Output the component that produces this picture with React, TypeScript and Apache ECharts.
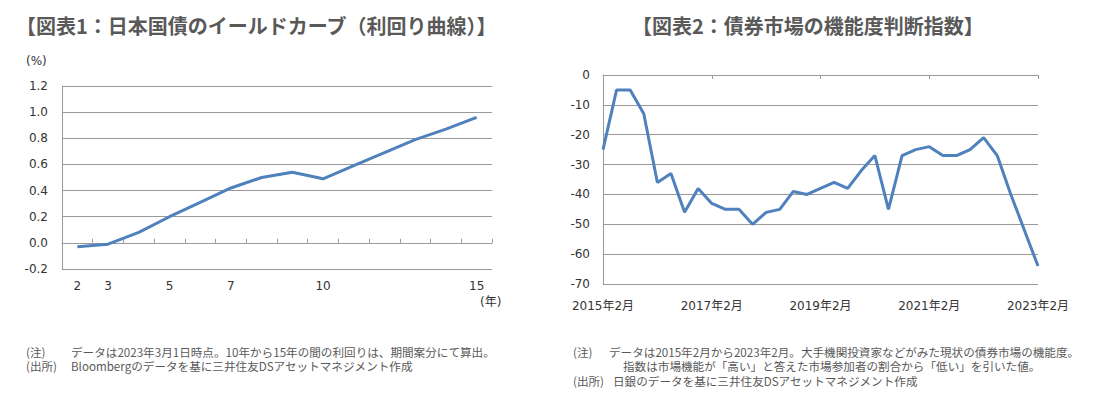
import React, { useEffect, useRef } from "react";
import * as echarts from "echarts";

// ---- data: Chart 1 (JGB yield curve) ----
const yieldMaturities = ["2", "3", "4", "5", "6", "7", "8", "9", "10", "11", "12", "13", "14", "15"];
const yieldValues = [-0.03, -0.01, 0.08, 0.2, 0.31, 0.42, 0.5, 0.54, 0.49, 0.59, 0.69, 0.79, 0.87, 0.96];
const yieldTickLabels = ["2", "3", "5", "7", "10", "15"];

// ---- data: Chart 2 (bond market functioning index) ----
const fmiDates = [
  "2015年2月", "2015年5月", "2015年8月", "2015年11月",
  "2016年2月", "2016年5月", "2016年8月", "2016年11月",
  "2017年2月", "2017年5月", "2017年8月", "2017年11月",
  "2018年2月", "2018年5月", "2018年8月", "2018年11月",
  "2019年2月", "2019年5月", "2019年8月", "2019年11月",
  "2020年2月", "2020年5月", "2020年8月", "2020年11月",
  "2021年2月", "2021年5月", "2021年8月", "2021年11月",
  "2022年2月", "2022年5月", "2022年8月", "2022年11月",
  "2023年2月",
];
const fmiValues = [
  -25, -5, -5, -13, -36, -33, -46, -38, -43, -45, -45, -50, -46, -45, -39, -40,
  -38, -36, -38, -32, -27, -45, -27, -25, -24, -27, -27, -25, -21, -27, -40, -52, -64,
];

const title1 = "【図表1：日本国債のイールドカーブ（利回り曲線）】";
const title2 = "【図表2：債券市場の機能度判断指数】";

const LABEL_FONT = "'DejaVu Sans', 'Noto Sans CJK JP', sans-serif";
const JP_FONT = "'Noto Sans CJK JP', sans-serif";
const GRID_COLOR = "#9a9a9a";
const LINE_COLOR = "#4f81bd";
const TEXT_COLOR = "#333333";
const NOTE_COLOR = "#595959";

export default function App() {
  const ref = useRef<HTMLDivElement>(null);

  useEffect(() => {
    if (!ref.current) return;
    const chart = echarts.init(ref.current, undefined, { renderer: "svg" });

    const noteStyle = { fontSize: 11.6, lineHeight: 13, fill: NOTE_COLOR, fontFamily: JP_FONT };

    chart.setOption({
      animation: false,
      backgroundColor: "#ffffff",
      title: [
        {
          text: title1,
          left: 11,
          top: 10,
          textStyle: { fontSize: 20, fontWeight: "bold", color: "#595959", fontFamily: JP_FONT },
        },
        {
          text: title2,
          left: 627,
          top: 10,
          textStyle: { fontSize: 20, fontWeight: "bold", color: "#595959", fontFamily: JP_FONT },
        },
      ],
      grid: [
        { left: 62, right: 607, top: 86, height: 183 },
        { left: 603, right: 61, top: 75, height: 209 },
      ],
      xAxis: [
        {
          gridIndex: 0,
          type: "category",
          data: yieldMaturities,
          boundaryGap: true,
          position: "bottom",
          axisLine: { show: false, onZero: false },
          axisTick: { show: false },
          axisLabel: {
            interval: (_i: number, v: string) => yieldTickLabels.includes(v),
            margin: 11,
            fontSize: 12,
            color: TEXT_COLOR,
            fontFamily: LABEL_FONT,
          },
        },
        {
          gridIndex: 0,
          type: "category",
          data: yieldMaturities,
          boundaryGap: true,
          position: "bottom",
          axisLine: { show: true, onZero: true, lineStyle: { color: GRID_COLOR, width: 1 } },
          axisTick: { show: true, inside: true, length: 4, interval: 0, lineStyle: { color: GRID_COLOR } },
          axisLabel: { show: false },
        },
        {
          gridIndex: 1,
          type: "category",
          data: fmiDates,
          boundaryGap: false,
          position: "bottom",
          axisLine: { show: false, onZero: false },
          axisTick: { show: false },
          axisLabel: {
            interval: 7,
            margin: 16,
            fontSize: 12,
            color: TEXT_COLOR,
            fontFamily: LABEL_FONT,
          },
        },
        {
          gridIndex: 1,
          type: "category",
          data: fmiDates,
          boundaryGap: false,
          position: "top",
          axisLine: { show: true, onZero: false, lineStyle: { color: GRID_COLOR, width: 1 } },
          axisTick: { show: true, inside: true, length: 4, interval: 7, lineStyle: { color: GRID_COLOR } },
          axisLabel: { show: false },
        },
      ],
      yAxis: [
        {
          gridIndex: 0,
          type: "value",
          min: -0.2,
          max: 1.2,
          interval: 0.2,
          axisLine: { show: true, lineStyle: { color: GRID_COLOR, width: 1 } },
          axisTick: { show: false },
          splitLine: { show: true, lineStyle: { color: GRID_COLOR, width: 1 } },
          axisLabel: {
            formatter: (v: number) => v.toFixed(1),
            margin: 14,
            fontSize: 12,
            color: TEXT_COLOR,
            fontFamily: LABEL_FONT,
          },
        },
        {
          gridIndex: 1,
          type: "value",
          min: -70,
          max: 0,
          interval: 10,
          axisLine: { show: true, lineStyle: { color: GRID_COLOR, width: 1 } },
          axisTick: { show: false },
          splitLine: { show: true, lineStyle: { color: GRID_COLOR, width: 1 } },
          axisLabel: {
            margin: 13,
            fontSize: 12,
            color: TEXT_COLOR,
            fontFamily: LABEL_FONT,
          },
        },
      ],
      series: [
        {
          type: "line",
          xAxisIndex: 1,
          yAxisIndex: 0,
          data: yieldValues,
          symbol: "none",
          lineStyle: { color: LINE_COLOR, width: 3 },
          z: 5,
        },
        {
          type: "line",
          xAxisIndex: 2,
          yAxisIndex: 1,
          data: fmiValues,
          symbol: "none",
          lineStyle: { color: LINE_COLOR, width: 3 },
          z: 5,
        },
      ],
      graphic: [
        { type: "text", left: 26, top: 55, style: { text: "(%)", fontSize: 12, fill: TEXT_COLOR, fontFamily: LABEL_FONT } },
        { type: "text", left: 480, top: 296, style: { text: "(年)", fontSize: 12, fill: TEXT_COLOR, fontFamily: LABEL_FONT } },
        // left notes
        { type: "text", left: 26, top: 345, style: { ...noteStyle, text: "(注)" } },
        { type: "text", left: 71, top: 345, style: { ...noteStyle, text: "データは2023年3月1日時点。10年から15年の間の利回りは、期間案分にて算出。" } },
        { type: "text", left: 26, top: 359.5, style: { ...noteStyle, text: "(出所)" } },
        { type: "text", left: 71, top: 359.5, style: { ...noteStyle, text: "Bloombergのデータを基に三井住友DSアセットマネジメント作成" } },
        // right notes
        { type: "text", left: 573, top: 345, style: { ...noteStyle, text: "(注)" } },
        { type: "text", left: 609, top: 345, style: { ...noteStyle, text: "データは2015年2月から2023年2月。大手機関投資家などがみた現状の債券市場の機能度。" } },
        { type: "text", left: 623, top: 359.5, style: { ...noteStyle, text: "指数は市場機能が「高い」と答えた市場参加者の割合から「低い」を引いた値。" } },
        { type: "text", left: 573, top: 374, style: { ...noteStyle, text: "(出所)" } },
        { type: "text", left: 613, top: 374, style: { ...noteStyle, text: "日銀のデータを基に三井住友DSアセットマネジメント作成" } },
      ],
    });

    return () => chart.dispose();
  }, []);

  return (
    <div
      ref={ref}
      style={{ position: "absolute", left: 0, top: 0, width: 1099, height: 397 }}
    />
  );
}
